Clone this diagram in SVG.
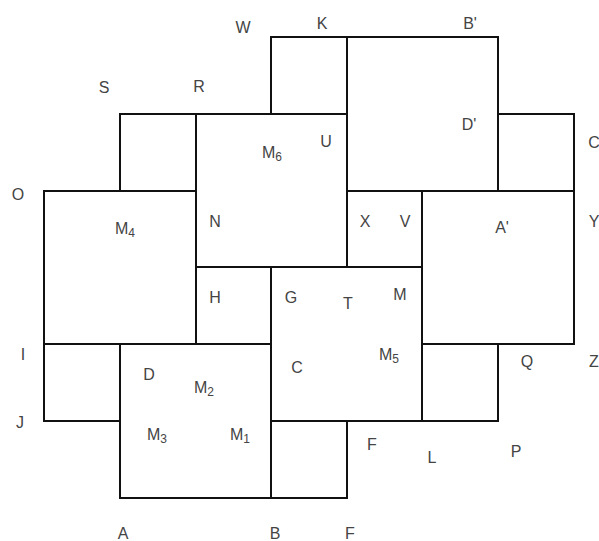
<svg xmlns="http://www.w3.org/2000/svg" width="599" height="541" viewBox="0 0 599 541">
<style>
.sq{fill:none;stroke:#111;stroke-width:2;}
.t{font-family:"Liberation Sans",Arial,sans-serif;font-size:16px;fill:#444;text-anchor:middle;}
.s{font-size:12px;}
</style>
<rect width="599" height="541" fill="#fff"/>
<g id="squares">
<rect class="sq" x="271" y="37" width="76" height="77"/>
<rect class="sq" x="347" y="37" width="151" height="154"/>
<rect class="sq" x="120" y="114" width="76" height="77"/>
<rect class="sq" x="196" y="114" width="151" height="153"/>
<rect class="sq" x="498" y="114" width="76" height="77"/>
<rect class="sq" x="44" y="191" width="152" height="153"/>
<rect class="sq" x="347" y="191" width="75" height="76"/>
<rect class="sq" x="422" y="191" width="152" height="153"/>
<rect class="sq" x="196" y="267" width="75" height="77"/>
<rect class="sq" x="271" y="267" width="151" height="154"/>
<rect class="sq" x="44" y="344" width="76" height="77"/>
<rect class="sq" x="120" y="344" width="151" height="154"/>
<rect class="sq" x="422" y="344" width="76" height="77"/>
<rect class="sq" x="271" y="421" width="76" height="77"/>
</g>
<g id="labels">
<text class="t" x="243" y="33">W</text>
<text class="t" x="322" y="29">K</text>
<text class="t" x="470" y="29">B'</text>
<text class="t" x="104" y="93">S</text>
<text class="t" x="199" y="92">R</text>
<text class="t" x="272" y="158">M<tspan class="s" dy="3">6</tspan></text>
<text class="t" x="326" y="147">U</text>
<text class="t" x="469" y="130">D'</text>
<text class="t" x="594" y="148">C</text>
<text class="t" x="18" y="200">O</text>
<text class="t" x="125" y="234">M<tspan class="s" dy="3">4</tspan></text>
<text class="t" x="215" y="227">N</text>
<text class="t" x="365" y="227">X</text>
<text class="t" x="405" y="227">V</text>
<text class="t" x="502" y="233">A'</text>
<text class="t" x="594" y="227">Y</text>
<text class="t" x="215" y="303">H</text>
<text class="t" x="291" y="303">G</text>
<text class="t" x="348" y="309">T</text>
<text class="t" x="400" y="300">M</text>
<text class="t" x="389" y="360">M<tspan class="s" dy="3">5</tspan></text>
<text class="t" x="297" y="373">C</text>
<text class="t" x="23" y="360">I</text>
<text class="t" x="527" y="367">Q</text>
<text class="t" x="594" y="367">Z</text>
<text class="t" x="149" y="380">D</text>
<text class="t" x="204" y="393">M<tspan class="s" dy="3">2</tspan></text>
<text class="t" x="20" y="428">J</text>
<text class="t" x="157" y="440">M<tspan class="s" dy="3">3</tspan></text>
<text class="t" x="240" y="440">M<tspan class="s" dy="3">1</tspan></text>
<text class="t" x="372" y="450">F</text>
<text class="t" x="432" y="463">L</text>
<text class="t" x="516" y="457">P</text>
<text class="t" x="123" y="539">A</text>
<text class="t" x="275" y="539">B</text>
<text class="t" x="350" y="539">F</text>
</g>
</svg>
